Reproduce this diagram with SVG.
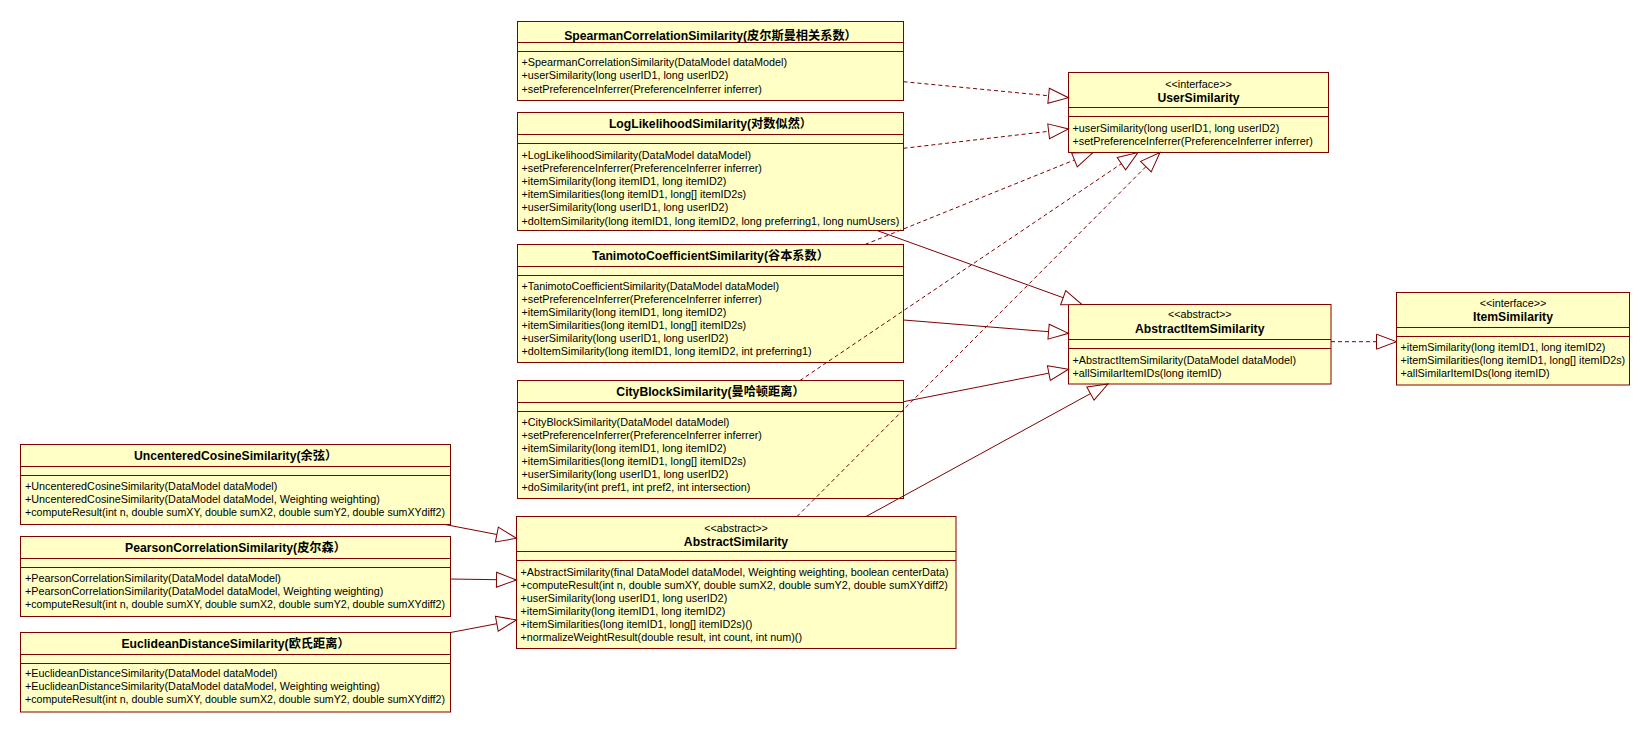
<svg xmlns="http://www.w3.org/2000/svg" width="1650" height="733" viewBox="0 0 1650 733">
<style>
.box{fill:#FFFFC6;stroke:#800000;stroke-width:1}
.sep{stroke:#800000;stroke-width:1}
.mem{font-family:"Liberation Sans","Noto Sans CJK SC",sans-serif;font-size:10.8px;fill:#000}
.name{font-family:"Liberation Sans","Noto Sans CJK SC",sans-serif;font-size:12.2px;font-weight:bold;fill:#000;text-anchor:middle}
.stereo{font-family:"Liberation Sans","Noto Sans CJK SC",sans-serif;font-size:10.8px;fill:#000;text-anchor:middle}
.conn{fill:none;stroke:#800000;stroke-width:1;marker-end:url(#tri)}
.dash{stroke-dasharray:4 3}
</style>
<defs>
<marker id="tri" viewBox="0 0 21 16" markerWidth="21" markerHeight="16" refX="20.5" refY="8" orient="auto" markerUnits="userSpaceOnUse" overflow="visible">
<path d="M0.5,0.5 L20.5,8 L0.5,15.5 Z" fill="#FFFFFF" stroke="#800000" stroke-width="1"/>
</marker>
</defs>
<rect width="1650" height="733" fill="#FFFFFF"/>

<g id="n-spearman">
<rect class="box" x="517.5" y="21.5" width="386" height="79"/>
<line class="sep" x1="517.5" y1="42.5" x2="903.5" y2="42.5"/>
<line class="sep" x1="517.5" y1="51.5" x2="903.5" y2="51.5"/>
<text class="name" x="710.5" y="39.5">SpearmanCorrelationSimilarity(皮尔斯曼相关系数）</text>
<text class="mem" x="521.5" y="66">+SpearmanCorrelationSimilarity(DataModel dataModel)</text>
<text class="mem" x="521.5" y="79.3">+userSimilarity(long userID1, long userID2)</text>
<text class="mem" x="521.5" y="92.6">+setPreferenceInferrer(PreferenceInferrer inferrer)</text>
</g>

<g id="n-loglikelihood">
<rect class="box" x="517.5" y="112.5" width="386" height="118"/>
<line class="sep" x1="517.5" y1="134.5" x2="903.5" y2="134.5"/>
<line class="sep" x1="517.5" y1="143.5" x2="903.5" y2="143.5"/>
<text class="name" x="710.5" y="127.5">LogLikelihoodSimilarity(对数似然）</text>
<text class="mem" x="521.5" y="158.5">+LogLikelihoodSimilarity(DataModel dataModel)</text>
<text class="mem" x="521.5" y="171.7">+setPreferenceInferrer(PreferenceInferrer inferrer)</text>
<text class="mem" x="521.5" y="184.9">+itemSimilarity(long itemID1, long itemID2)</text>
<text class="mem" x="521.5" y="198.1">+itemSimilarities(long itemID1, long[] itemID2s)</text>
<text class="mem" x="521.5" y="211.3">+userSimilarity(long userID1, long userID2)</text>
<text class="mem" x="521.5" y="224.5">+doItemSimilarity(long itemID1, long itemID2, long preferring1, long numUsers)</text>
</g>

<g id="n-tanimoto">
<rect class="box" x="517.5" y="244.5" width="386" height="118"/>
<line class="sep" x1="517.5" y1="266.5" x2="903.5" y2="266.5"/>
<line class="sep" x1="517.5" y1="275.5" x2="903.5" y2="275.5"/>
<text class="name" x="710.5" y="259.8">TanimotoCoefficientSimilarity(谷本系数）</text>
<text class="mem" x="521.5" y="290">+TanimotoCoefficientSimilarity(DataModel dataModel)</text>
<text class="mem" x="521.5" y="303">+setPreferenceInferrer(PreferenceInferrer inferrer)</text>
<text class="mem" x="521.5" y="316">+itemSimilarity(long itemID1, long itemID2)</text>
<text class="mem" x="521.5" y="329">+itemSimilarities(long itemID1, long[] itemID2s)</text>
<text class="mem" x="521.5" y="342">+userSimilarity(long userID1, long userID2)</text>
<text class="mem" x="521.5" y="355">+doItemSimilarity(long itemID1, long itemID2, int preferring1)</text>
</g>

<g id="n-cityblock">
<rect class="box" x="517.5" y="380.5" width="386" height="118"/>
<line class="sep" x1="517.5" y1="402.5" x2="903.5" y2="402.5"/>
<line class="sep" x1="517.5" y1="411.5" x2="903.5" y2="411.5"/>
<text class="name" x="710.5" y="395.5">CityBlockSimilarity(曼哈顿距离）</text>
<text class="mem" x="521.5" y="426">+CityBlockSimilarity(DataModel dataModel)</text>
<text class="mem" x="521.5" y="439">+setPreferenceInferrer(PreferenceInferrer inferrer)</text>
<text class="mem" x="521.5" y="452">+itemSimilarity(long itemID1, long itemID2)</text>
<text class="mem" x="521.5" y="465">+itemSimilarities(long itemID1, long[] itemID2s)</text>
<text class="mem" x="521.5" y="478">+userSimilarity(long userID1, long userID2)</text>
<text class="mem" x="521.5" y="491">+doSimilarity(int pref1, int pref2, int intersection)</text>
</g>

<g id="n-abstractsimilarity">
<rect class="box" x="516.5" y="516.5" width="439.5" height="132"/>
<line class="sep" x1="516.5" y1="551.5" x2="956" y2="551.5"/>
<line class="sep" x1="516.5" y1="560.5" x2="956" y2="560.5"/>
<text class="stereo" x="736" y="531.7">&lt;&lt;abstract&gt;&gt;</text>
<text class="name" x="736" y="545.5">AbstractSimilarity</text>
<text class="mem" x="520.5" y="576.3">+AbstractSimilarity(final DataModel dataModel, Weighting weighting, boolean centerData)</text>
<text class="mem" x="520.5" y="589.2">+computeResult(int n, double sumXY, double sumX2, double sumY2, double sumXYdiff2)</text>
<text class="mem" x="520.5" y="602.1">+userSimilarity(long userID1, long userID2)</text>
<text class="mem" x="520.5" y="615">+itemSimilarity(long itemID1, long itemID2)</text>
<text class="mem" x="520.5" y="627.9">+itemSimilarities(long itemID1, long[] itemID2s)()</text>
<text class="mem" x="520.5" y="640.8">+normalizeWeightResult(double result, int count, int num)()</text>
</g>

<g id="n-usersimilarity">
<rect class="box" x="1068.5" y="72.5" width="260" height="80"/>
<line class="sep" x1="1068.5" y1="107.5" x2="1328.5" y2="107.5"/>
<line class="sep" x1="1068.5" y1="116.5" x2="1328.5" y2="116.5"/>
<text class="stereo" x="1198.5" y="88">&lt;&lt;interface&gt;&gt;</text>
<text class="name" x="1198.5" y="101.5">UserSimilarity</text>
<text class="mem" x="1072.5" y="132">+userSimilarity(long userID1, long userID2)</text>
<text class="mem" x="1072.5" y="145">+setPreferenceInferrer(PreferenceInferrer inferrer)</text>
</g>

<g id="n-abstractitemsimilarity">
<rect class="box" x="1068.5" y="304.5" width="262.5" height="79.5"/>
<line class="sep" x1="1068.5" y1="339.5" x2="1331" y2="339.5"/>
<line class="sep" x1="1068.5" y1="348.5" x2="1331" y2="348.5"/>
<text class="stereo" x="1199.75" y="318">&lt;&lt;abstract&gt;&gt;</text>
<text class="name" x="1199.75" y="332.5">AbstractItemSimilarity</text>
<text class="mem" x="1072.5" y="363.5">+AbstractItemSimilarity(DataModel dataModel)</text>
<text class="mem" x="1072.5" y="376.5">+allSimilarItemIDs(long itemID)</text>
</g>

<g id="n-itemsimilarity">
<rect class="box" x="1396.5" y="292.5" width="233" height="92.5"/>
<line class="sep" x1="1396.5" y1="327.5" x2="1629.5" y2="327.5"/>
<line class="sep" x1="1396.5" y1="336.5" x2="1629.5" y2="336.5"/>
<text class="stereo" x="1513" y="307.3">&lt;&lt;interface&gt;&gt;</text>
<text class="name" x="1513" y="321">ItemSimilarity</text>
<text class="mem" x="1400.5" y="351">+itemSimilarity(long itemID1, long itemID2)</text>
<text class="mem" x="1400.5" y="364">+itemSimilarities(long itemID1, long[] itemID2s)</text>
<text class="mem" x="1400.5" y="377">+allSimilarItemIDs(long itemID)</text>
</g>

<g id="n-uncentered">
<rect class="box" x="20.5" y="444.5" width="430" height="80"/>
<line class="sep" x1="20.5" y1="466.5" x2="450.5" y2="466.5"/>
<line class="sep" x1="20.5" y1="475.5" x2="450.5" y2="475.5"/>
<text class="name" x="235.5" y="460">UncenteredCosineSimilarity(余弦）</text>
<text class="mem" x="25" y="490">+UncenteredCosineSimilarity(DataModel dataModel)</text>
<text class="mem" x="25" y="503.2">+UncenteredCosineSimilarity(DataModel dataModel, Weighting weighting)</text>
<text class="mem" x="25" y="516.4" textLength="420" lengthAdjust="spacingAndGlyphs">+computeResult(int n, double sumXY, double sumX2, double sumY2, double sumXYdiff2)</text>
</g>

<g id="n-pearson">
<rect class="box" x="20.5" y="536.5" width="430" height="80"/>
<line class="sep" x1="20.5" y1="558.5" x2="450.5" y2="558.5"/>
<line class="sep" x1="20.5" y1="567.5" x2="450.5" y2="567.5"/>
<text class="name" x="235.5" y="552">PearsonCorrelationSimilarity(皮尔森）</text>
<text class="mem" x="25" y="582.3">+PearsonCorrelationSimilarity(DataModel dataModel)</text>
<text class="mem" x="25" y="595.2">+PearsonCorrelationSimilarity(DataModel dataModel, Weighting weighting)</text>
<text class="mem" x="25" y="608.1" textLength="420" lengthAdjust="spacingAndGlyphs">+computeResult(int n, double sumXY, double sumX2, double sumY2, double sumXYdiff2)</text>
</g>

<g id="n-euclidean">
<rect class="box" x="20.5" y="632.5" width="430" height="79.5"/>
<line class="sep" x1="20.5" y1="654.5" x2="450.5" y2="654.5"/>
<line class="sep" x1="20.5" y1="663.5" x2="450.5" y2="663.5"/>
<text class="name" x="235.5" y="647.7">EuclideanDistanceSimilarity(欧氏距离）</text>
<text class="mem" x="25" y="677.3">+EuclideanDistanceSimilarity(DataModel dataModel)</text>
<text class="mem" x="25" y="690.1">+EuclideanDistanceSimilarity(DataModel dataModel, Weighting weighting)</text>
<text class="mem" x="25" y="702.9" textLength="420" lengthAdjust="spacingAndGlyphs">+computeResult(int n, double sumXY, double sumX2, double sumY2, double sumXYdiff2)</text>
</g>

<g id="connectors">
<path class="conn dash" d="M903.5,81.7 L1068.5,97.7"/>
<path class="conn dash" d="M903.5,148.3 L1068.5,129"/>
<path class="conn dash" d="M865,244.5 L1093,152.5"/>
<path class="conn dash" d="M800,380.5 L1138,152.5"/>
<path class="conn dash" d="M797,516.5 L1160,152.5"/>
<path class="conn" d="M877,230.5 L1082,304.5"/>
<path class="conn" d="M903.5,320 L1068.5,333.3"/>
<path class="conn" d="M903.5,401.7 L1068.5,369.3"/>
<path class="conn" d="M866,516.5 L1108,384"/>
<path class="conn" d="M445,524.5 L516.5,538.3"/>
<path class="conn" d="M450.5,579 L516.5,580"/>
<path class="conn" d="M450.5,632.5 L516.5,620"/>
<path class="conn dash" d="M1331,341.7 L1396.5,341.7"/>
</g>
</svg>
